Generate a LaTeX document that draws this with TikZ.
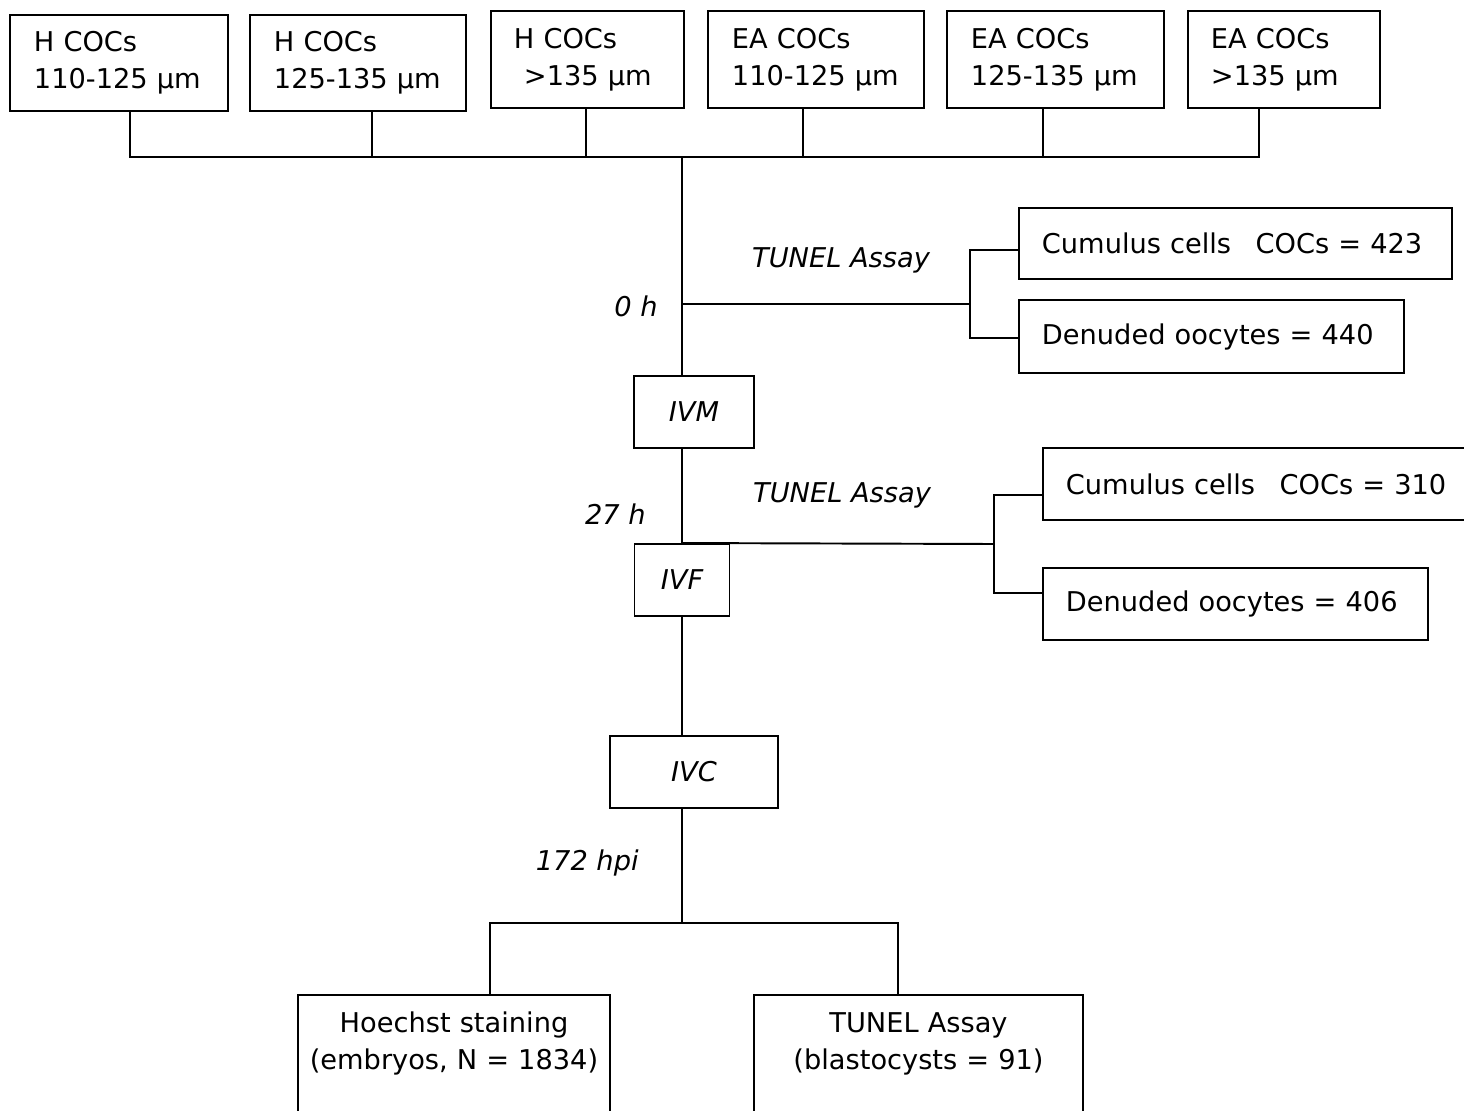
\documentclass[tikz,border=0pt]{standalone}
\usepackage{fontspec}
\setmainfont{DejaVu Sans}
\newcommand{\figfont}{\fontsize{15.5}{21}\selectfont}
\tikzset{
  box/.style   = {draw, line width=1.1pt, inner ysep=2pt, font=\figfont},
  grp/.style   = {box, anchor=north west, align=left, inner xsep=0.48cm,
                  minimum height=1.94cm},
  res/.style   = {box, anchor=west, align=left, inner xsep=0.46cm,
                  minimum height=1.44cm},
  stage/.style = {box, font=\figfont\itshape, minimum height=1.44cm},
  fin/.style   = {box, anchor=north, align=center, inner xsep=0.2cm,
                  inner ysep=0pt, text height=0.76cm, text depth=1.66cm},
  lbl/.style   = {font=\figfont\itshape, inner sep=0pt},
  ln/.style    = {line width=1.1pt},
}

\begin{document}
\begin{tikzpicture}[x=0.02cm, y=-0.02cm]
\useasboundingbox (0,0) rectangle (1464,1111);
% oocyte groups
\node[grp, text width=3.40cm, minimum height=1.92cm] (h1) at (9,14) {H COCs\\110-125 µm};
\node[grp, text width=3.36cm, minimum height=1.92cm] (h2) at (249,14) {H COCs\\125-135 µm};
\node[grp, text width=2.94cm, inner xsep=0.46cm] (h3) at (490,10) {H COCs\\\hspace*{0.2cm}>135 µm};
\node[grp, text width=3.36cm] (e1) at (707,10) {EA COCs\\110-125 µm};
\node[grp, text width=3.38cm] (e2) at (946,10) {EA COCs\\125-135 µm};
\node[grp, text width=2.92cm, inner xsep=0.46cm] (e3) at (1187,10) {EA COCs\\>135 µm};

\coordinate (j1) at (130,157);
\coordinate (j2) at (372,157);
\coordinate (j3) at (586,157);
\coordinate (j4) at (803,157);
\coordinate (j5) at (1043,157);
\coordinate (j6) at (1259,157);
\coordinate (t0) at (682,157);
\draw[ln] (j1 |- h1.south) -- (j1) -- (j6) -- (j6 |- e3.south);
\draw[ln] (j2 |- h2.south) -- (j2);
\draw[ln] (j3 |- h3.south) -- (j3);
\draw[ln] (j4 |- e1.south) -- (j4);
\draw[ln] (j5 |- e2.south) -- (j5);

% culture steps
\node[stage, minimum width=2.4cm] (ivm) at (694,412) {IVM};
\node[stage, minimum width=1.9cm] (ivf) at (682,580) {IVF};
\node[stage, minimum width=3.36cm] (ivc) at (694,772) {IVC};
\coordinate (t1) at (682,923);
\draw[ln] (t0) -- (t0 |- ivm.north);
\draw[ln] (t0 |- ivm.south) -- (ivf.north);
\draw[ln] (ivf.south) -- (t0 |- ivc.north);
\draw[ln] (t0 |- ivc.south) -- (t1);

\node[lbl, anchor=base east] (at0) at (658,317) {0 h};
\node[lbl, anchor=base east] (at27) at (646,524) {27 h};
\node[lbl, anchor=base east] (at172) at (639,870) {172 hpi};

% TUNEL at 0 h
\node[res, text width=7.74cm, minimum height=1.42cm] (cc1) at (1018,243.5) {Cumulus cells\hspace{0.9em}COCs = 423};
\node[res, text width=6.78cm, minimum height=1.46cm] (do1) at (1018,336.5) {Denuded oocytes = 440};
\node[lbl, anchor=base] (ta1) at (841,268) {TUNEL Assay};
\coordinate (s1) at (682,304);
\coordinate (k1) at (970,304);
\coordinate (k1a) at (970,250);
\coordinate (k1b) at (970,338);
\draw[ln] (s1) -- (k1);
\draw[ln] (cc1.west |- k1a) -- (k1a) -- (k1b) -- (do1.west |- k1b);

% TUNEL at 27 h
\node[res, text width=7.84cm] (cc2) at (1042,484) {Cumulus cells\hspace{0.9em}COCs = 310};
\node[res, text width=6.78cm] (do2) at (1042,604) {Denuded oocytes = 406};
\node[lbl, anchor=base] (ta2) at (842,502) {TUNEL Assay};
\coordinate (k2) at (994,544);
\coordinate (k2a) at (994,495);
\coordinate (k2b) at (994,593);
\draw[ln] (ivf.north) -- (k2);
\draw[ln] (cc2.west |- k2a) -- (k2a) -- (k2b) -- (do2.west |- k2b);

% embryo analysis
\node[fin, text width=5.84cm] (hoe) at (454,994) {Hoechst staining\\(embryos, N = 1834)};
\node[fin, text width=6.18cm] (tun) at (918.5,994) {TUNEL Assay\\(blastocysts = 91)};
\coordinate (bl) at (490,923);
\coordinate (br) at (898,923);
\draw[ln] (bl |- hoe.north) -- (bl) -- (br) -- (br |- tun.north);
\end{tikzpicture}
\end{document}
